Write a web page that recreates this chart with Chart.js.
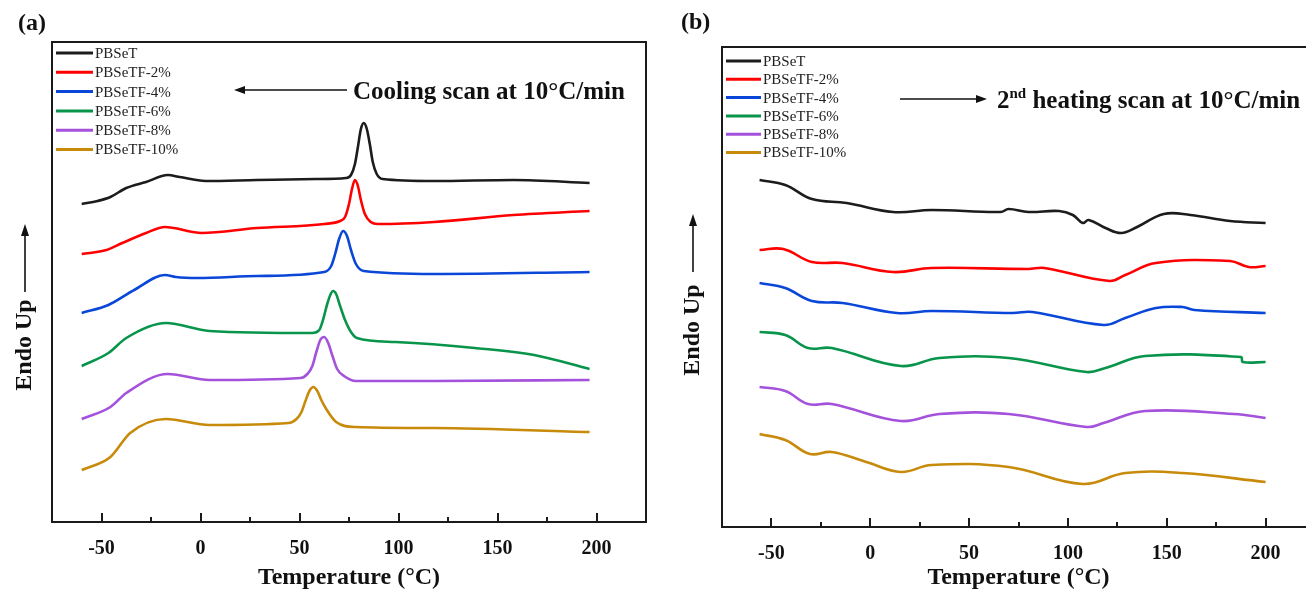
<!DOCTYPE html>
<html><head><meta charset="utf-8">
<script src="https://cdn.jsdelivr.net/npm/chart.js@4.4.1/dist/chart.umd.min.js"></script>
<style>
html,body{margin:0;padding:0;background:#fff;overflow:hidden;width:1306px;height:596px;}
#ca{position:absolute;left:0;top:0;}
#cb{position:absolute;left:660px;top:0;}
</style></head><body>
<canvas id="ca" width="660" height="596"></canvas>
<canvas id="cb" width="660" height="596"></canvas>
<script>
// ---------- names, colours, ticks ----------
const seriesNames = ['PBSeT','PBSeTF-2%','PBSeTF-4%','PBSeTF-6%','PBSeTF-8%','PBSeTF-10%'];
const seriesColors = ['#1c1c1c','#ff0000','#0a47d8','#08944a','#a452dc','#c88a0a'];
const xTickLabels = [-50, 0, 50, 100, 150, 200];
const xMinorTicks = [-25, 25, 75, 125, 175];

// ---------- (a) cooling scan: temperature (°C) and heat flow (a.u., offset) ----------
const coolT_PBSeT = [-60,-52,-45.5,-37.5,-27.5,-16.5,-10.5,2.5,28.5,58.5,73.5,76,78,79.5,81,82.5,84,85.5,87,89,92,118,158,196.5];
const coolV_PBSeT = [318,321,325,334,340,347,345,341,342,343,344,347,358,375,393,399,393,378,360,348,343,341,342,339];
const coolT_F2 = [-60,-47.5,-39.5,-27.5,-18,-13.5,0.5,28.5,62.5,70.5,73,75,76.5,78,79.5,81,83,86,89.5,118,158,196.5];
const coolV_F2 = [268,272,279,289,295,294,289,294,298,301,305,318,333,342,336,322,308,300,298,300,307,311];
const coolT_F4 = [-60,-46.5,-33.5,-18,-12.5,-1.5,28.5,62.5,66,68,70,72,74,76,78.5,82.5,118,196.5];
const coolV_F4 = [209,217,232,247,245,244,246,250,256,268,283,291,286,272,258,251,248,250];
const coolT_F6 = [-60,-46.5,-37.5,-17.5,4.5,56.5,60,62,64,66,67,68.5,70.5,73,76,79,98.5,138.5,168.5,196.5];
const coolV_F6 = [156,169,184,199,191,189,192,203,218,229,231,228,216,202,190,184,180,174,167,153];
const coolT_F8 = [-60,-45.5,-37.5,-16.5,4.5,50.5,54,56.5,58.5,60.5,62.5,64.5,66.5,69,72.5,78.5,118,196.5];
const coolV_F8 = [103,115,129,148,142,144,148,156,170,182,185,179,167,153,146,141,141,142];
const coolT_F10 = [-60,-45.5,-35.5,-17.5,4.5,44.5,48.5,51,53,55,57,59,61,63.5,68.5,78.5,118,196.5];
const coolV_F10 = [52,65,89,103,97,99,103,110,121,131,135,131,122,113,100,95,94,90];

// ---------- (b) 2nd heating scan ----------
const heatT_PBSeT = [-56,-43,-29.5,-12,11.5,31,66,70,80,95.5,102.5,107.5,110.5,119,127,135,148.5,162,182,200];
const heatV_PBSeT = [347,342,328,324,315,317,315,318,315,316,312,304,307,299,294,300,313,312,306,304];
const heatT_F2 = [-56,-44,-29.5,-14,11.5,31,80,88,121,129,144.5,182,191.5,200];
const heatV_F2 = [277,278,265,264,255,259,258,259,246,252,264,266,260,261];
const heatT_F4 = [-56,-43,-29.5,-14,13.5,31,72,82,118,129,144.5,158,164,200];
const heatV_F4 = [244,239,226,224,214,216,214,215,202,209,219,220,217,214];
const heatT_F6 = [-56,-43,-31.5,-19.5,15.5,35,70,109.5,119,139,187.5,188.5,200];
const heatV_F6 = [195,192,179,179,161,169,169,155,159,171,170,165,165];
const heatT_F8 = [-56,-43,-31.5,-19.5,15.5,35,70,109.5,118,139,184,200];
const heatV_F8 = [140,136,123,123,106,113,113,100,104,116,113,109];
const heatT_F10 = [-56,-43,-30.5,-19.5,-2,15.5,31,70,107.5,129,158,200];
const heatV_F10 = [93,87,73,75,65,55,62,60,43,54,54,45];

const coolSets = [[coolT_PBSeT,coolV_PBSeT],[coolT_F2,coolV_F2],[coolT_F4,coolV_F4],[coolT_F6,coolV_F6],[coolT_F8,coolV_F8],[coolT_F10,coolV_F10]];
const heatSets = [[heatT_PBSeT,heatV_PBSeT],[heatT_F2,heatV_F2],[heatT_F4,heatV_F4],[heatT_F6,heatV_F6],[heatT_F8,heatV_F8],[heatT_F10,heatV_F10]];

function makeDatasets(sets, monotone){
  return sets.map((s,i)=>({
    label: seriesNames[i],
    data: s[0].map((t,k)=>({x:t, y:s[1][k]})),
    borderColor: seriesColors[i],
    backgroundColor: seriesColors[i],
    borderWidth: 2.6,
    pointRadius: 0,
    cubicInterpolationMode: monotone ? 'monotone' : 'default',
    tension: monotone ? 0 : 0.4,
    fill: false
  }));
}

const SERIF = "'Liberation Serif','Times New Roman',serif";

function arrowH(ctx, x0, x1, y){ // tip at x1
  const dir = Math.sign(x1-x0);
  ctx.beginPath(); ctx.moveTo(x0,y); ctx.lineTo(x1-dir*8,y); ctx.stroke();
  ctx.beginPath(); ctx.moveTo(x1,y); ctx.lineTo(x1-dir*11,y-4); ctx.lineTo(x1-dir*11,y+4); ctx.closePath(); ctx.fill();
}

const decor = {
  id: 'decor',
  afterDraw(chart, args, o){
    const ctx = chart.ctx, ca = chart.chartArea, xs = chart.scales.x;
    ctx.save();
    ctx.strokeStyle = '#1a1a1a'; ctx.fillStyle = '#111';
    ctx.lineWidth = 2;
    ctx.strokeRect(ca.left, ca.top, ca.right-ca.left, ca.bottom-ca.top);
    xTickLabels.forEach(v=>{ const px = Math.round(xs.getPixelForValue(v));
      ctx.beginPath(); ctx.moveTo(px, ca.bottom); ctx.lineTo(px, ca.bottom-9); ctx.stroke(); });
    xMinorTicks.forEach(v=>{ const px = Math.round(xs.getPixelForValue(v));
      ctx.beginPath(); ctx.moveTo(px, ca.bottom); ctx.lineTo(px, ca.bottom-5); ctx.stroke(); });
    // legend
    ctx.textAlign = 'left'; ctx.textBaseline = 'middle';
    ctx.font = '15px ' + SERIF;
    chart.data.datasets.forEach((ds,i)=>{
      const y = o.legY + i*o.legDy;
      ctx.strokeStyle = ds.borderColor; ctx.lineWidth = 3;
      ctx.beginPath(); ctx.moveTo(o.legX0, y); ctx.lineTo(o.legX1, y); ctx.stroke();
      ctx.fillStyle = '#222'; ctx.fillText(ds.label, o.legX1+2, y+1);
    });
    // panel letter
    ctx.fillStyle = '#111';
    ctx.font = 'bold 24px ' + SERIF;
    ctx.fillText(o.letter, o.letX, o.letY);
    // annotation arrow + text
    ctx.strokeStyle = '#111'; ctx.lineWidth = 1.6;
    arrowH(ctx, o.arrX0, o.arrX1, o.arrY);
    ctx.font = 'bold 25px ' + SERIF; ctx.textBaseline = 'alphabetic';
    let x = o.txtX; const base = o.txtBase;
    if (o.sup){
      ctx.fillText('2', x, base); x += ctx.measureText('2').width;
      ctx.font = 'bold 15px ' + SERIF;
      ctx.fillText('nd', x, base-10); x += ctx.measureText('nd').width;
      ctx.font = 'bold 25px ' + SERIF;
    }
    ctx.fillText(o.text, x, base);
    // y title: Endo Up with arrow
    ctx.font = 'bold 24px ' + SERIF;
    ctx.save();
    ctx.translate(o.yX, o.yTextC);
    ctx.rotate(-Math.PI/2);
    ctx.textAlign = 'center'; ctx.textBaseline = 'middle';
    ctx.fillText('Endo Up', 0, 0);
    ctx.restore();
    ctx.lineWidth = 1.6;
    ctx.beginPath(); ctx.moveTo(o.yX, o.yArrBot); ctx.lineTo(o.yX, o.yArrTop+8); ctx.stroke();
    ctx.beginPath(); ctx.moveTo(o.yX, o.yArrTop); ctx.lineTo(o.yX-4, o.yArrTop+12); ctx.lineTo(o.yX+4, o.yArrTop+12); ctx.closePath(); ctx.fill();
    ctx.restore();
  }
};

function makeChart(id, sets, monotone, padTop, padRight, padLeft, xHeight, titlePadTop, deco){
  return new Chart(document.getElementById(id), {
    type: 'line',
    data: { datasets: makeDatasets(sets, monotone) },
    options: {
      responsive: false, animation: false,
      layout: { padding: { top: padTop, right: padRight, left: padLeft, bottom: 0 } },
      plugins: { legend: { display: false }, tooltip: { enabled: false }, decor: deco },
      scales: {
        x: {
          type: 'linear', min: -75, max: 225,
          afterBuildTicks: s => { s.ticks = xTickLabels.map(v=>({value:v})); },
          afterFit: s => { s.height = xHeight; },
          grid: { display: false, drawTicks: false },
          border: { display: false },
          ticks: { color: '#111', font: { family: SERIF, size: 20, weight: 'bold' }, padding: 15, maxRotation: 0, autoSkip: false },
          title: { display: true, text: 'Temperature (°C)', color: '#111', font: { family: SERIF, size: 24, weight: 'bold' }, padding: { top: titlePadTop, bottom: 4 } }
        },
        y: { display: false, min: 0, max: 480 }
      }
    },
    plugins: [decor]
  });
}

makeChart('ca', coolSets, true, 42, 14, 52, 74, 2, {
  legX0: 56, legX1: 93, legY: 53, legDy: 19.3,
  letter: '(a)', letX: 18, letY: 24,
  arrX0: 347, arrX1: 234, arrY: 90,
  txtX: 353, txtBase: 99, text: 'Cooling scan at 10°C/min', sup: false,
  yX: 25, yTextC: 345, yArrBot: 292, yArrTop: 224
});
makeChart('cb', heatSets, false, 47, 5, 62, 69, 0, {
  legX0: 66, legX1: 101, legY: 61, legDy: 18.3,
  letter: '(b)', letX: 21, letY: 23,
  arrX0: 240, arrX1: 327, arrY: 99,
  txtX: 337, txtBase: 108, text: ' heating scan at 10°C/min', sup: true,
  yX: 33, yTextC: 330, yArrBot: 272, yArrTop: 214
});
</script>
</body></html>
